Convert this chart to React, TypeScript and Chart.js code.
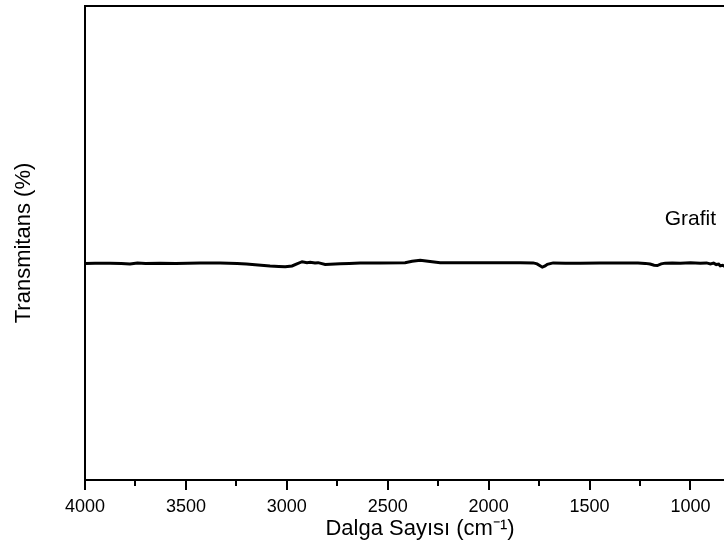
import React, { useEffect, useRef } from "react";
import { Chart, registerables } from "chart.js";

Chart.register(...registerables);

const wavenumbers: number[] = [
  4000, 3950, 3876, 3820, 3777, 3740, 3700, 3628, 3550, 3430, 3330, 3246, 3200, 3157, 3083, 3040,
  3008, 2974, 2950, 2924, 2900, 2884, 2860, 2845, 2810, 2785, 2736, 2690, 2637, 2537, 2414, 2379,
  2339, 2300, 2240, 2150, 2042, 1950, 1843, 1779, 1760, 1745, 1734, 1720, 1709, 1680, 1620, 1546,
  1450, 1348, 1260, 1224, 1200, 1180, 1164, 1145, 1125, 1090, 1050, 1000, 951, 920, 901, 885, 872,
  860, 852, 840, 832, 820,
];

const grafitValues: number[] = [
  45.7, 45.75, 45.75, 45.7, 45.55, 45.8, 45.7, 45.75, 45.7, 45.8, 45.8, 45.7, 45.55, 45.4, 45.15,
  45.05, 45.0, 45.15, 45.6, 46.05, 45.85, 45.95, 45.8, 45.85, 45.45, 45.5, 45.6, 45.7, 45.8, 45.8,
  45.85, 46.15, 46.35, 46.15, 45.85, 45.85, 45.85, 45.85, 45.85, 45.8, 45.6, 45.2, 44.9, 45.15, 45.5,
  45.8, 45.75, 45.75, 45.8, 45.8, 45.8, 45.7, 45.55, 45.3, 45.25, 45.6, 45.75, 45.8, 45.75, 45.85,
  45.75, 45.8, 45.6, 45.75, 45.45, 45.55, 45.2, 45.3, 45.1, 45.2,
];

const seriesLabel = "Grafit";
const seriesLabelAt = { x: 1000, y: 55 };
const xTitle = "Dalga Sayısı (cm⁻¹)";
const yTitle = "Transmitans (%)";
const xMax = 4000;
const xMin = 680;
const majorStep = 500;
const tickStep = 250;

const FONT = "'Liberation Sans', Arial, sans-serif";

const framePlugin = {
  id: "frameAndTicks",
  afterDraw(chart: any) {
    const { ctx, chartArea } = chart;
    const xs = chart.scales.x;
    ctx.save();
    ctx.strokeStyle = "#000";
    ctx.lineWidth = 2;
    ctx.strokeRect(chartArea.left, chartArea.top, chartArea.right - chartArea.left, chartArea.bottom - chartArea.top);
    ctx.beginPath();
    for (let v = xMax; v >= xMin; v -= tickStep) {
      const px = Math.round(xs.getPixelForValue(v));
      const len = v % majorStep === 0 ? 10 : 6;
      ctx.moveTo(px, chartArea.bottom);
      ctx.lineTo(px, chartArea.bottom + len);
    }
    ctx.stroke();
    ctx.fillStyle = "#000";
    ctx.font = `21px ${FONT}`;
    ctx.textAlign = "center";
    ctx.textBaseline = "middle";
    ctx.fillText(
      seriesLabel,
      xs.getPixelForValue(seriesLabelAt.x),
      chart.scales.y.getPixelForValue(seriesLabelAt.y)
    );
    ctx.restore();
  },
};

export default function App() {
  const ref = useRef<HTMLCanvasElement>(null);
  useEffect(() => {
    if (!ref.current) return;
    const chart = new Chart(ref.current, {
      type: "line",
      data: {
        datasets: [
          {
            label: seriesLabel,
            data: wavenumbers.map((w, i) => ({ x: w, y: grafitValues[i] })),
            borderColor: "#000",
            borderWidth: 3,
            pointRadius: 0,
            tension: 0,
            fill: false,
          },
        ],
      },
      options: {
        animation: false,
        responsive: false,
        devicePixelRatio: 1,
        layout: { padding: { top: 6, right: 5, left: 0, bottom: 0 } },
        plugins: { legend: { display: false }, tooltip: { enabled: false } },
        scales: {
          x: {
            type: "linear",
            reverse: true,
            min: xMin,
            max: xMax,
            afterBuildTicks: (scale: any) => {
              const t = [];
              for (let v = xMax; v >= xMin; v -= majorStep) t.push({ value: v });
              scale.ticks = t;
            },
            afterFit: (scale: any) => {
              scale.height = 69;
            },
            grid: { display: false, drawTicks: false },
            border: { display: false },
            ticks: {
              color: "#000",
              font: { family: FONT, size: 18 },
              padding: 16,
              maxRotation: 0,
              autoSkip: false,
              callback: (v: any) => String(v),
            },
            title: {
              display: true,
              text: xTitle,
              color: "#000",
              font: { family: FONT, size: 22 },
              padding: { top: 0, bottom: 7 },
            },
          },
          y: {
            min: 0,
            max: 100,
            afterFit: (scale: any) => {
              scale.width = 85;
            },
            grid: { display: false, drawTicks: false },
            border: { display: false },
            ticks: { display: false },
            title: {
              display: true,
              text: yTitle,
              color: "#000",
              font: { family: FONT, size: 22 },
              padding: { top: 11, bottom: 0 },
            },
          },
        },
      },
      plugins: [framePlugin],
    });
    return () => chart.destroy();
  }, []);
  return (
    <div style={{ position: "fixed", left: 0, top: 0, width: 724, height: 549, overflow: "hidden", background: "#fff" }}>
      <canvas ref={ref} width={760} height={549} style={{ display: "block" }} />
    </div>
  );
}
